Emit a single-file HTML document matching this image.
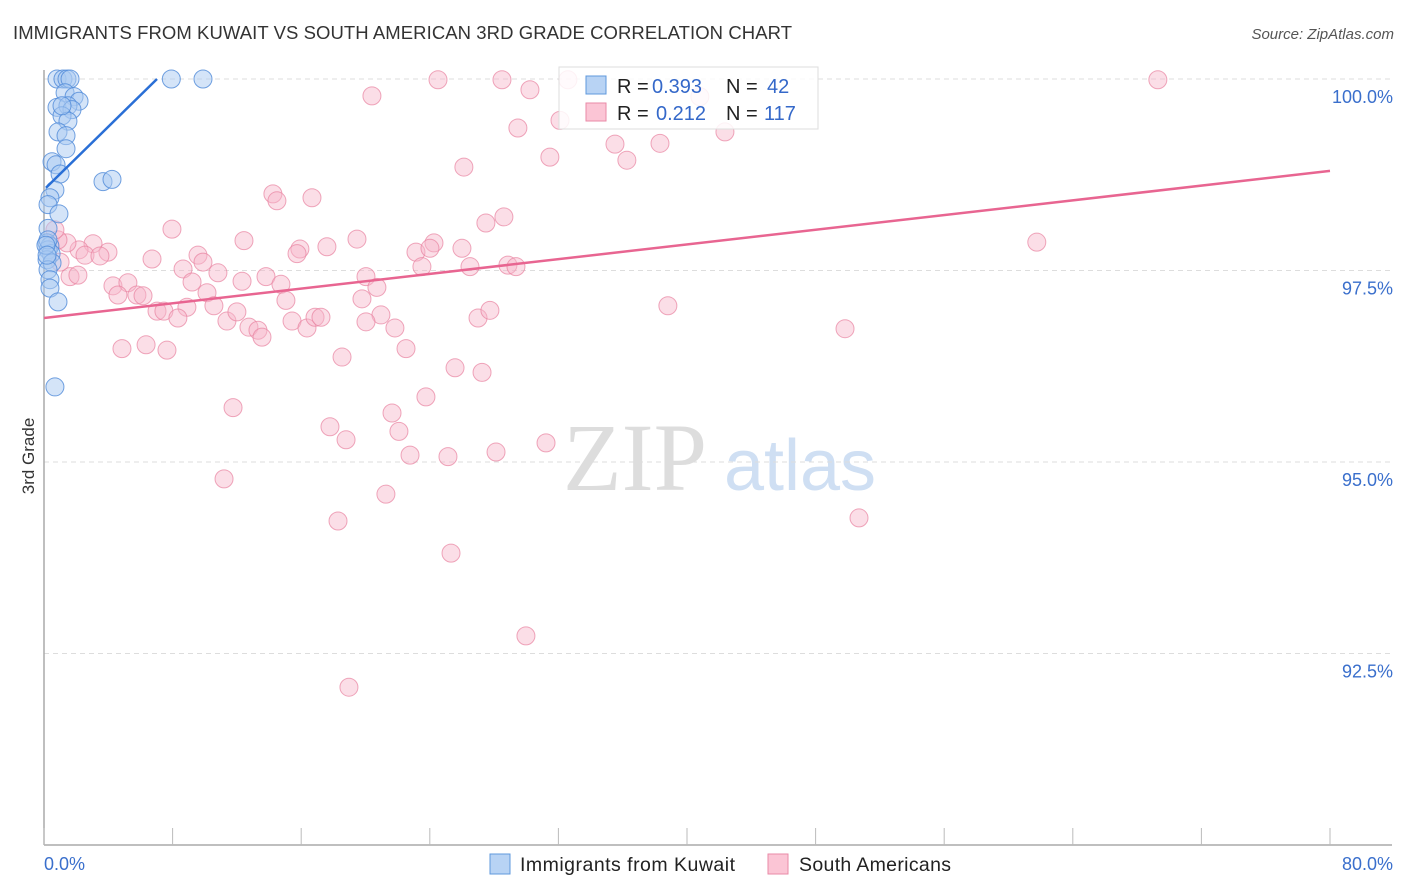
<!DOCTYPE html>
<html><head><meta charset="utf-8">
<style>
body{margin:0;background:#fff;font-family:"Liberation Sans",sans-serif;}
svg{display:block}
</style></head>
<body>
<svg id="chart" width="1406" height="892" viewBox="0 0 1406 892" xmlns="http://www.w3.org/2000/svg">
<text x="13" y="39" font-size="18.5" fill="#333" textLength="779" font-family="Liberation Sans, sans-serif">IMMIGRANTS FROM KUWAIT VS SOUTH AMERICAN 3RD GRADE CORRELATION CHART</text>
<text x="1394" y="39" font-size="15" fill="#555" font-style="italic" text-anchor="end">Source: ZipAtlas.com</text>
<text transform="translate(34,456) rotate(-90)" font-size="17" fill="#333" text-anchor="middle">3rd Grade</text>
<g>
<text x="635" y="490" font-size="96" fill="#ddd" font-family="Liberation Serif, serif" text-anchor="middle">ZIP</text>
<text x="800" y="490" font-size="72" fill="#cfdff3" text-anchor="middle">atlas</text>
</g>
<g id="grid"></g>
<g id="axes"></g>
<g id="pts"></g>
<g id="trend"></g>
<g>
<rect x="559" y="67" width="259" height="62" fill="#fff" fill-opacity="0.85" stroke="#ddd"/>
<rect x="586" y="76" width="20" height="18" fill="#b8d3f4" stroke="#5f98dc"/>
<rect x="586" y="103" width="20" height="18" fill="#fbc5d5" stroke="#e98aa7"/>
<text x="617" y="93" font-size="20" fill="#222">R =</text>
<text x="652" y="93" font-size="20" fill="#3468c9">0.393</text>
<text x="726" y="93" font-size="20" fill="#222">N =</text>
<text x="767" y="93" font-size="20" fill="#3468c9">42</text>
<text x="617" y="120" font-size="20" fill="#222">R =</text>
<text x="656" y="120" font-size="20" fill="#3468c9">0.212</text>
<text x="726" y="120" font-size="20" fill="#222">N =</text>
<text x="764" y="120" font-size="20" fill="#3468c9">117</text>
</g>
<g>
<rect x="490" y="854" width="20" height="20" fill="#b8d3f4" stroke="#5f98dc"/>
<text x="520" y="871" font-size="19.5" fill="#222" textLength="215">Immigrants from Kuwait</text>
<rect x="768" y="854" width="20" height="20" fill="#fbc5d5" stroke="#e98aa7"/>
<text x="799" y="871" font-size="19.5" fill="#222" textLength="152">South Americans</text>
</g>
</svg>
<script>
const xTicks=[0,8,16,24,32,40,48,56,64,72,80];
const yTicks=[100,97.5,95,92.5];
const yTickLabels=["100.0%","97.5%","95.0%","92.5%"];
const xEndLabels=["0.0%","80.0%"];
const kuwaitX=[0.81,1.18,1.43,1.62,7.92,9.89,1.31,1.87,2.18,0.81,1.49,1.74,1.12,1.49,0.87,1.37,1.37,0.50,0.75,1.00,3.67,4.23,0.68,0.37,0.25,0.93,0.25,0.19,0.37,0.25,0.44,0.19,0.50,0.25,0.37,0.37,0.87,0.68,0.25,0.12,1.12,0.19];
const kuwaitY=[100,100,100,100,100,100,99.82,99.77,99.71,99.63,99.65,99.60,99.52,99.45,99.31,99.26,99.09,98.92,98.88,98.76,98.66,98.69,98.55,98.45,98.36,98.24,98.05,97.86,97.82,97.77,97.72,97.64,97.60,97.51,97.38,97.27,97.09,95.98,97.90,97.83,99.65,97.70];
const southX=[69.29,24.51,28.49,32.59,20.40,30.23,40.80,29.48,42.36,35.52,38.32,31.47,36.26,26.12,32.10,14.24,14.49,16.67,28.61,27.49,7.96,12.44,15.92,17.60,19.47,24.26,26.00,23.14,24.01,61.76,9.58,6.72,3.98,3.05,2.18,1.43,0.87,0.68,2.55,3.48,8.65,9.89,10.82,12.32,13.81,15.74,20.03,23.51,26.50,28.86,29.36,9.21,4.29,5.22,4.60,5.78,6.16,10.14,10.57,8.89,7.03,7.46,8.33,11.38,12.00,12.75,13.31,13.56,14.74,15.05,15.43,16.36,16.86,17.23,19.78,20.71,20.96,21.83,20.03,22.52,27.00,27.74,38.81,49.83,4.85,6.35,7.65,18.54,25.57,27.25,23.76,11.76,21.65,17.79,22.08,18.79,31.23,22.77,25.13,28.12,11.20,21.27,18.29,50.70,25.32,29.98,18.97,1.62,2.11,1.00];
const southY=[99.99,99.99,99.99,99.99,99.78,99.86,99.77,99.36,99.31,99.15,99.16,98.98,98.94,98.85,99.46,98.50,98.41,98.45,98.20,98.12,98.04,97.89,97.78,97.81,97.91,97.86,97.79,97.74,97.79,97.87,97.70,97.65,97.74,97.85,97.77,97.86,97.90,98.03,97.70,97.69,97.52,97.61,97.47,97.36,97.42,97.72,97.42,97.55,97.55,97.57,97.55,97.35,97.30,97.34,97.18,97.18,97.17,97.21,97.04,97.02,96.97,96.97,96.88,96.84,96.96,96.76,96.72,96.63,97.32,97.11,96.84,96.75,96.89,96.89,97.13,97.28,96.92,96.75,96.83,96.48,96.88,96.98,97.04,96.74,96.48,96.53,96.46,96.37,96.23,96.17,95.85,95.71,95.64,95.46,95.40,95.29,95.25,95.09,95.07,95.13,94.78,94.58,94.23,94.27,93.81,92.73,92.06,97.42,97.44,97.61];
const kuwaitTrend=[[0.125,98.58],[7.03,100]];
const southTrend=[[0,96.88],[80,98.80]];

const NS="http://www.w3.org/2000/svg";
const X0=44,X1=1330,Y0=845,Y1=79;
const xs=v=>X0+(v-0)/(80-0)*(X1-X0);
const ys=v=>Y0-(v-90)/(100-90)*(Y0-Y1);
function mk(tag,attrs,parent){const e=document.createElementNS(NS,tag);for(const k in attrs)e.setAttribute(k,attrs[k]);parent.appendChild(e);return e;}
const grid=document.getElementById('grid'),axes=document.getElementById('axes'),pts=document.getElementById('pts'),trend=document.getElementById('trend');
yTicks.forEach((t,i)=>{
 const l=mk('line',{x1:X0,x2:1392,y1:ys(t),y2:ys(t),stroke:'#ddd','stroke-dasharray':'5,4'},grid);
 
 
 const tx=mk('text',{x:1393,y:ys(t)+24,'font-size':18,fill:'#3a6fcc','text-anchor':'end'},axes);
 tx.textContent=yTickLabels[i];
 
 
});
const ax=mk('line',{x1:X0,x2:1392,y1:Y0,y2:Y0,stroke:'#aaa','stroke-width':1.5},axes);


const ay=mk('line',{x1:X0,x2:X0,y1:70,y2:Y0,stroke:'#aaa','stroke-width':1.5},axes);


xTicks.forEach(t=>{
 const l=mk('line',{x1:xs(t),x2:xs(t),y1:Y0-17,y2:Y0,stroke:'#bbb'},axes);
 
 
});
[[0,'start',44],[80,'end',1393]].forEach((d,i)=>{
 const tx=mk('text',{x:d[2],y:870,'font-size':18,fill:'#3a6fcc','text-anchor':d[1]},axes);
 tx.textContent=xEndLabels[i];
 
 
});
southX.forEach((v,i)=>{
 const c=mk('circle',{cx:xs(v),cy:ys(southY[i]),r:9,fill:'#f7b6ca','fill-opacity':0.45,stroke:'#e8829f','stroke-opacity':0.7,'stroke-width':1},pts);
 
 
});
kuwaitX.forEach((v,i)=>{
 const c=mk('circle',{cx:xs(v),cy:ys(kuwaitY[i]),r:9,fill:'#a9c9f2','fill-opacity':0.5,stroke:'#4f8ad8','stroke-opacity':0.8,'stroke-width':1},pts);
 
 
});
const t1=mk('line',{x1:xs(kuwaitTrend[0][0]),y1:ys(kuwaitTrend[0][1]),x2:xs(kuwaitTrend[1][0]),y2:ys(kuwaitTrend[1][1]),stroke:'#2a6fd6','stroke-width':2.5},trend);


const t2=mk('line',{x1:xs(southTrend[0][0]),y1:ys(southTrend[0][1]),x2:xs(southTrend[1][0]),y2:ys(southTrend[1][1]),stroke:'#e86591','stroke-width':2.5},trend);


</script>
</body></html>
